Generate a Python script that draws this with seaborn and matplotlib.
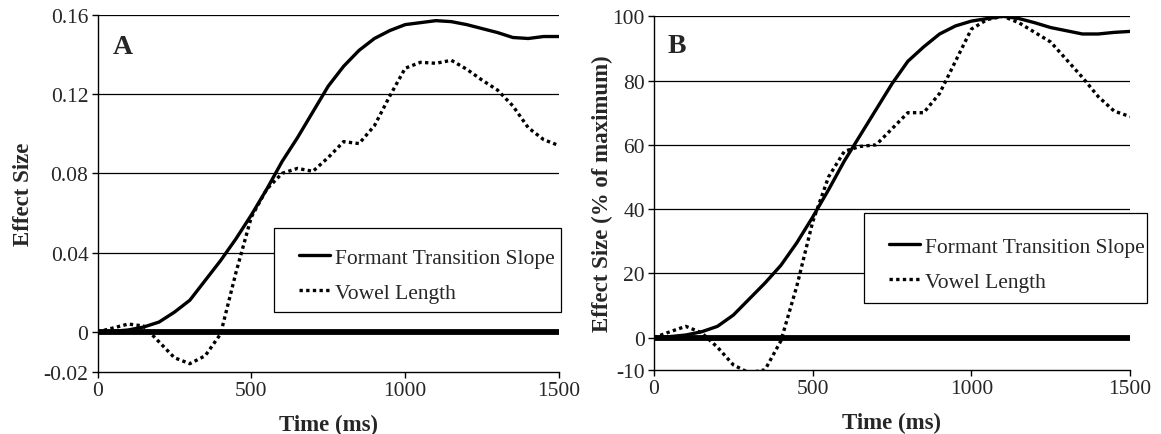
import numpy as np
import pandas as pd
import matplotlib
matplotlib.use("Agg")
import matplotlib.pyplot as plt
from matplotlib.patches import Rectangle
import seaborn as sns

sns.set_style("ticks")
plt.rcParams["font.family"] = ["Liberation Serif", "DejaVu Serif"]

# ---------------------------------------------------------------
# DATA (50 ms steps)
# ---------------------------------------------------------------
time_ms = list(range(0, 1501, 50))

slope_a = [0, 0.0003, 0.001, 0.0025, 0.005, 0.010, 0.016, 0.026, 0.036, 0.047,
           0.059, 0.072, 0.086, 0.098, 0.111, 0.124, 0.134, 0.142, 0.148, 0.152,
           0.155, 0.156, 0.157, 0.1565, 0.155, 0.153, 0.151, 0.1485, 0.148, 0.149, 0.149]
vowel_a = [0, 0.002, 0.004, 0.003, -0.005, -0.013, -0.016, -0.012, -0.001, 0.030,
           0.058, 0.072, 0.080, 0.0825, 0.081, 0.088, 0.096, 0.095, 0.104, 0.119,
           0.133, 0.136, 0.1355, 0.137, 0.1325, 0.127, 0.122, 0.114, 0.103, 0.097, 0.094]

slope_b = [0, 0.3, 0.8, 1.8, 3.5, 7, 12, 17, 22.5, 29.5,
           37.5, 46, 55, 63, 71, 79, 86, 90.5, 94.5, 97,
           98.5, 99.3, 100, 99.3, 98, 96.5, 95.5, 94.5, 94.5, 95, 95.3]
vowel_b = [0, 1.8, 3.5, 1.5, -3, -8.5, -11, -10, -1, 16,
           36, 50, 58, 59.5, 60, 65, 70, 70, 76, 86,
           96, 99, 100, 98, 95, 92, 86.5, 81, 75, 70.5, 68.8]

yticks_a = [-0.02, 0, 0.04, 0.08, 0.12, 0.16]
ytick_labels_a = ["-0.02", "0", "0.04", "0.08", "0.12", "0.16"]
yticks_b = [-10, 0, 20, 40, 60, 80, 100]
ytick_labels_b = ["-10", "0", "20", "40", "60", "80", "100"]
xticks = [0, 500, 1000, 1500]

LABEL_SLOPE = "Formant Transition Slope"
LABEL_VOWEL = "Vowel Length"

# ---------------------------------------------------------------
# FIGURE
# ---------------------------------------------------------------
fig = plt.figure(figsize=(11.61, 4.35), dpi=100)
ax_a = fig.add_axes([0.0840, 0.1434, 0.3975, 0.8205])
ax_b = fig.add_axes([0.5633, 0.1478, 0.4100, 0.8124])


def draw_panel(ax, slope, vowel, yticks, ylabels, ylim, ylabel, ylabelpad,
               letter, letter_pos, box, leg_anchor):
    # horizontal grid lines (not at 0 and bottom)
    for y in yticks:
        if y > 0:
            ax.axhline(y, color="black", lw=0.9, zorder=1)
    ax.axhline(0, color="black", lw=4.2, zorder=2)

    sns.lineplot(x=time_ms, y=slope, ax=ax, color="black", lw=2.4,
                 label=LABEL_SLOPE, zorder=3)
    sns.lineplot(x=time_ms, y=vowel, ax=ax, color="black", lw=2.4,
                 linestyle=(0, (1, 1)), label=LABEL_VOWEL, zorder=3)

    ax.set_xlim(0, 1500)
    ax.set_ylim(*ylim)
    ax.set_xticks(xticks)
    ax.set_xticklabels([str(x) for x in xticks])
    ax.set_yticks(yticks)
    ax.set_yticklabels(ylabels)
    ax.tick_params(axis="both", direction="out", length=4, width=1,
                   color="black", labelsize=15.5)
    ax.tick_params(axis="x", pad=3)
    ax.tick_params(axis="y", pad=2.5)
    for side in ["top", "right"]:
        ax.spines[side].set_visible(False)
    for side in ["left", "bottom"]:
        ax.spines[side].set_color("black")
        ax.spines[side].set_linewidth(1)

    ax.set_xlabel("Time (ms)", fontsize=16.5, fontweight="bold", labelpad=10)
    ax.set_ylabel(ylabel, fontsize=16.5, fontweight="bold", labelpad=ylabelpad)
    ax.text(letter_pos[0], letter_pos[1], letter, transform=ax.transAxes,
            fontsize=20, fontweight="bold", va="baseline", ha="left")

    # legend box (white, black frame) and legend entries
    x0, y0, x1, y1 = box
    ax.add_patch(Rectangle((x0, y0), x1 - x0, y1 - y0, transform=ax.transAxes,
                           facecolor="white", edgecolor="black", lw=0.9,
                           clip_on=False, zorder=5))
    leg = ax.legend(loc="center left", bbox_to_anchor=leg_anchor, fontsize=15.5,
                    frameon=False, handlelength=1.45, handletextpad=0.2,
                    borderpad=0, labelspacing=0.7, borderaxespad=0)
    leg.set_zorder(6)


draw_panel(ax_a, slope_a, vowel_a, yticks_a, ytick_labels_a, (-0.02, 0.16),
           "Effect Size", 7, "A", (0.032, 0.893),
           (0.382, 0.167, 1.004, 0.403), (0.4366, 0.270))
draw_panel(ax_b, slope_b, vowel_b, yticks_b, ytick_labels_b, (-10, 100),
           "Effect Size (% of maximum)", 0, "B", (0.029, 0.899),
           (0.441, 0.189, 1.036, 0.443), (0.494, 0.298))

fig.savefig("out.png", dpi=100)
